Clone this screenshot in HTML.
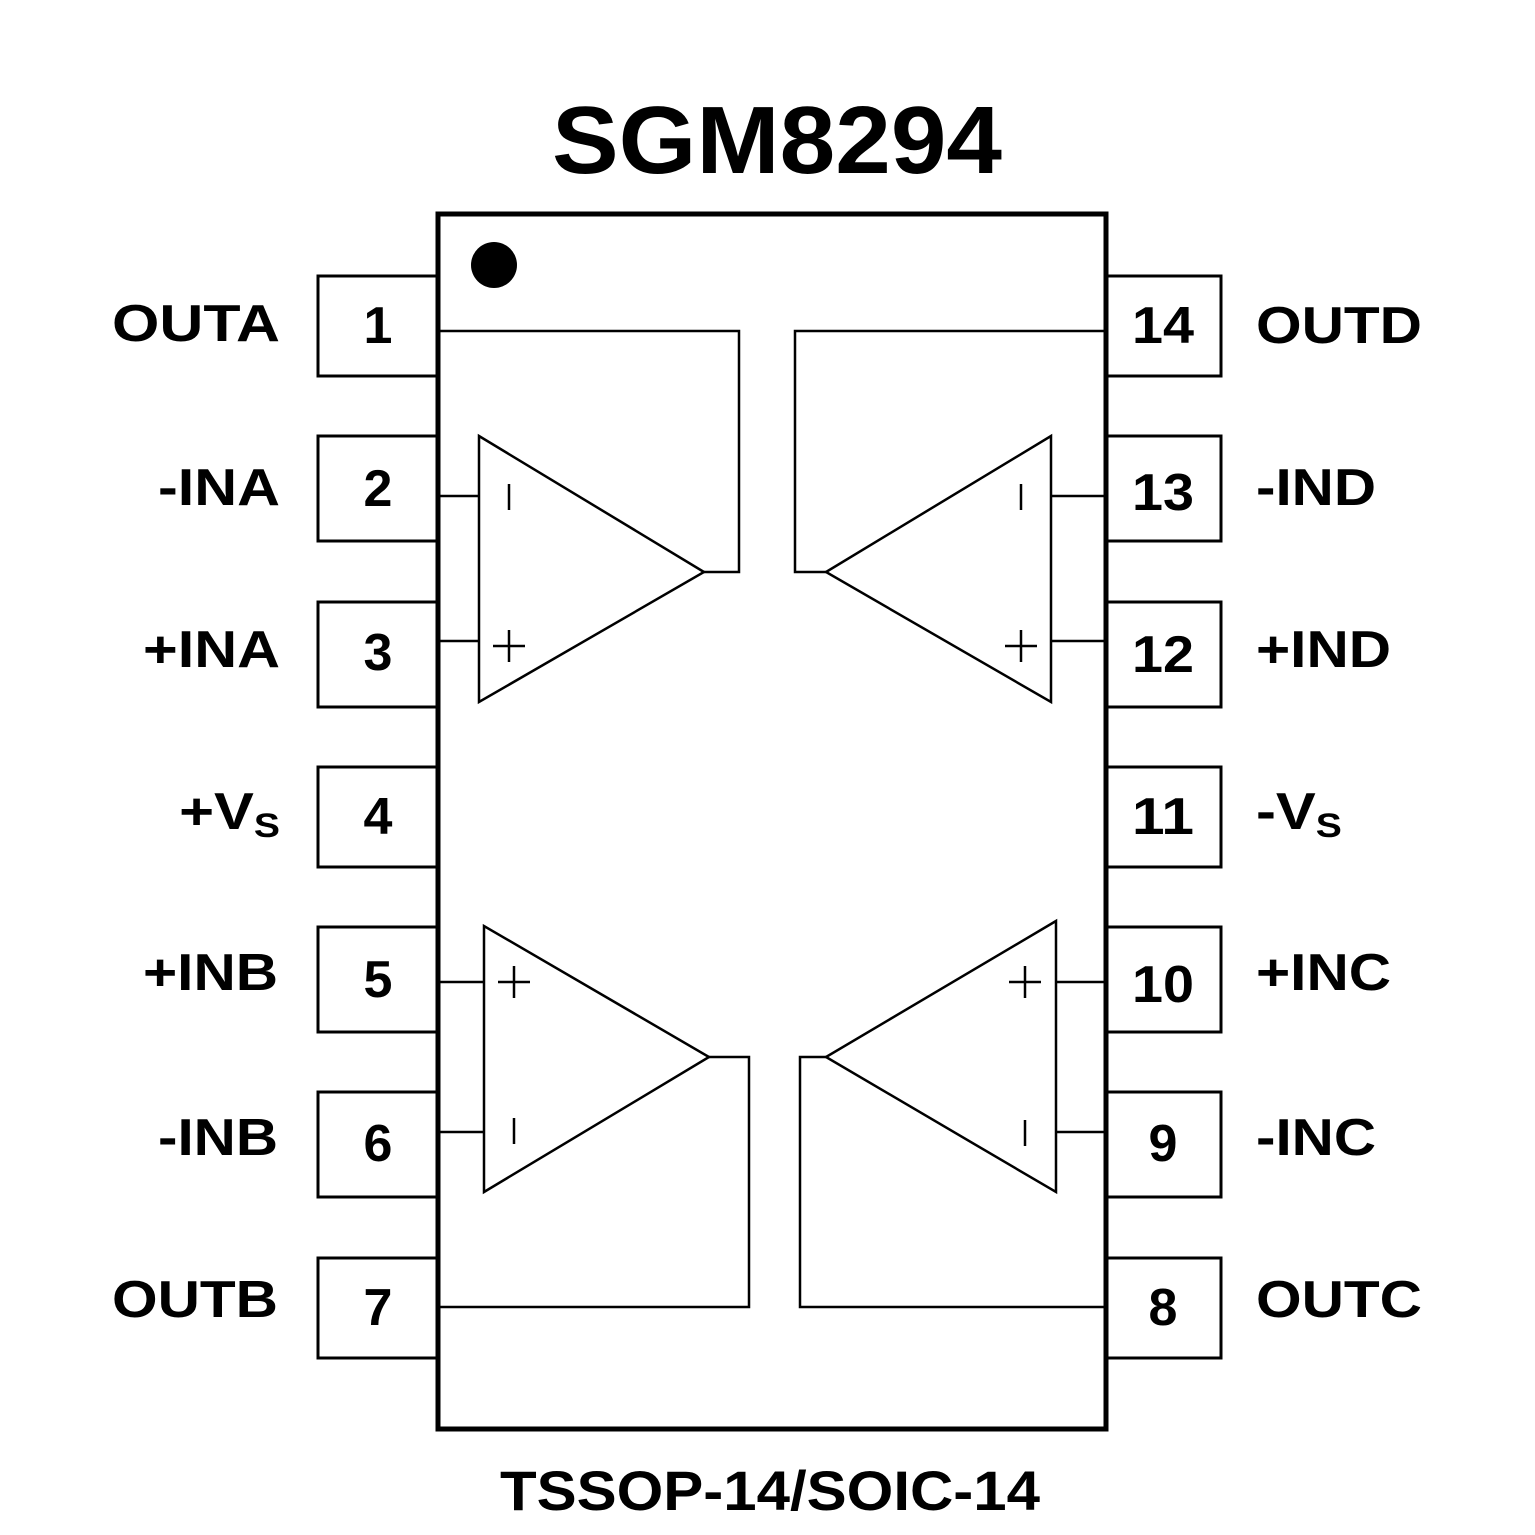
<!DOCTYPE html>
<html><head><meta charset="utf-8"><style>
html,body{margin:0;padding:0;background:#fff;}
svg{display:block;}
text{font-family:"Liberation Sans",Arial,sans-serif;font-weight:bold;fill:#000;}
</style></head><body>
<svg width="1535" height="1535" viewBox="0 0 1535 1535" xmlns="http://www.w3.org/2000/svg">
<text x="552" y="173" font-size="96" textLength="450" lengthAdjust="spacingAndGlyphs">SGM8294</text>
<text x="500" y="1510" font-size="56" textLength="540" lengthAdjust="spacingAndGlyphs">TSSOP-14/SOIC-14</text>
<g fill="none" stroke="#000" stroke-width="3">
<rect x="318" y="276" width="120" height="100"/>
<rect x="318" y="436" width="120" height="105"/>
<rect x="318" y="602" width="120" height="105"/>
<rect x="318" y="767" width="120" height="100"/>
<rect x="318" y="927" width="120" height="105"/>
<rect x="318" y="1092" width="120" height="105"/>
<rect x="318" y="1258" width="120" height="100"/>
<rect x="1106" y="276" width="115" height="100"/>
<rect x="1106" y="436" width="115" height="105"/>
<rect x="1106" y="602" width="115" height="105"/>
<rect x="1106" y="767" width="115" height="100"/>
<rect x="1106" y="927" width="115" height="105"/>
<rect x="1106" y="1092" width="115" height="105"/>
<rect x="1106" y="1258" width="115" height="100"/>
</g>
<rect x="438" y="214" width="668" height="1215" fill="#fff" stroke="#000" stroke-width="5"/>
<circle cx="494" cy="265" r="23" fill="#000"/>
<g fill="none" stroke="#000" stroke-width="2.5">
<polygon points="479,436 479,702 704,572"/>
<polyline points="704,572 739,572 739,331 440,331"/>
<line x1="440" y1="496" x2="479" y2="496"/>
<line x1="440" y1="641" x2="479" y2="641"/>
<line x1="509" y1="484" x2="509" y2="510"/>
<line x1="509" y1="630" x2="509" y2="662"/><line x1="493" y1="646" x2="525" y2="646"/>

<polygon points="1051,436 1051,702 826,572"/>
<polyline points="826,572 795,572 795,331 1104,331"/>
<line x1="1051" y1="496" x2="1104" y2="496"/>
<line x1="1051" y1="641" x2="1104" y2="641"/>
<line x1="1021" y1="484" x2="1021" y2="510"/>
<line x1="1021" y1="630" x2="1021" y2="662"/><line x1="1005" y1="646" x2="1037" y2="646"/>

<polygon points="484,926 484,1192 709,1057"/>
<polyline points="709,1057 749,1057 749,1307 440,1307"/>
<line x1="440" y1="982" x2="484" y2="982"/>
<line x1="440" y1="1132" x2="484" y2="1132"/>
<line x1="514" y1="966" x2="514" y2="998"/><line x1="498" y1="982" x2="530" y2="982"/>
<line x1="514" y1="1118" x2="514" y2="1144"/>

<polygon points="1056,921 1056,1192 826,1057"/>
<polyline points="826,1057 800,1057 800,1307 1104,1307"/>
<line x1="1056" y1="982" x2="1104" y2="982"/>
<line x1="1056" y1="1132" x2="1104" y2="1132"/>
<line x1="1025" y1="966" x2="1025" y2="998"/><line x1="1009" y1="982" x2="1041" y2="982"/>
<line x1="1025" y1="1120" x2="1025" y2="1146"/>
</g>
<g font-size="52" text-anchor="middle">
<text x="378" y="343">1</text>
<text x="378" y="506">2</text>
<text x="378" y="670">3</text>
<text x="378" y="834">4</text>
<text x="378" y="997">5</text>
<text x="378" y="1161">6</text>
<text x="378" y="1325">7</text>
<text x="1163" y="343" textLength="62" lengthAdjust="spacingAndGlyphs">14</text>
<text x="1163" y="510" textLength="62" lengthAdjust="spacingAndGlyphs">13</text>
<text x="1163" y="672" textLength="62" lengthAdjust="spacingAndGlyphs">12</text>
<text x="1163" y="834" textLength="62" lengthAdjust="spacingAndGlyphs">11</text>
<text x="1163" y="1002" textLength="62" lengthAdjust="spacingAndGlyphs">10</text>
<text x="1163" y="1161">9</text>
<text x="1163" y="1325">8</text>
</g>
<g font-size="52" lengthAdjust="spacingAndGlyphs">
<text x="112" y="341" textLength="168" lengthAdjust="spacingAndGlyphs">OUTA</text>
<text x="158" y="505" textLength="122" lengthAdjust="spacingAndGlyphs">-INA</text>
<text x="143" y="667" textLength="137" lengthAdjust="spacingAndGlyphs">+INA</text>
<text x="143" y="990" textLength="135" lengthAdjust="spacingAndGlyphs">+INB</text>
<text x="158" y="1155" textLength="120" lengthAdjust="spacingAndGlyphs">-INB</text>
<text x="112" y="1317" textLength="166" lengthAdjust="spacingAndGlyphs">OUTB</text>
<text x="1256" y="343" textLength="166" lengthAdjust="spacingAndGlyphs">OUTD</text>
<text x="1256" y="505" textLength="120" lengthAdjust="spacingAndGlyphs">-IND</text>
<text x="1256" y="667" textLength="135" lengthAdjust="spacingAndGlyphs">+IND</text>
<text x="1256" y="990" textLength="135" lengthAdjust="spacingAndGlyphs">+INC</text>
<text x="1256" y="1155" textLength="120" lengthAdjust="spacingAndGlyphs">-INC</text>
<text x="1256" y="1317" textLength="166" lengthAdjust="spacingAndGlyphs">OUTC</text>
</g>
<g font-size="52">
<text x="280" y="829" text-anchor="end" transform="translate(280 0) scale(1.15 1) translate(-280 0)">+V<tspan font-size="34" dy="8">S</tspan></text>
<text x="1256" y="829" transform="translate(1256 0) scale(1.15 1) translate(-1256 0)">-V<tspan font-size="34" dy="8">S</tspan></text>
</g>
</svg>
</body></html>
